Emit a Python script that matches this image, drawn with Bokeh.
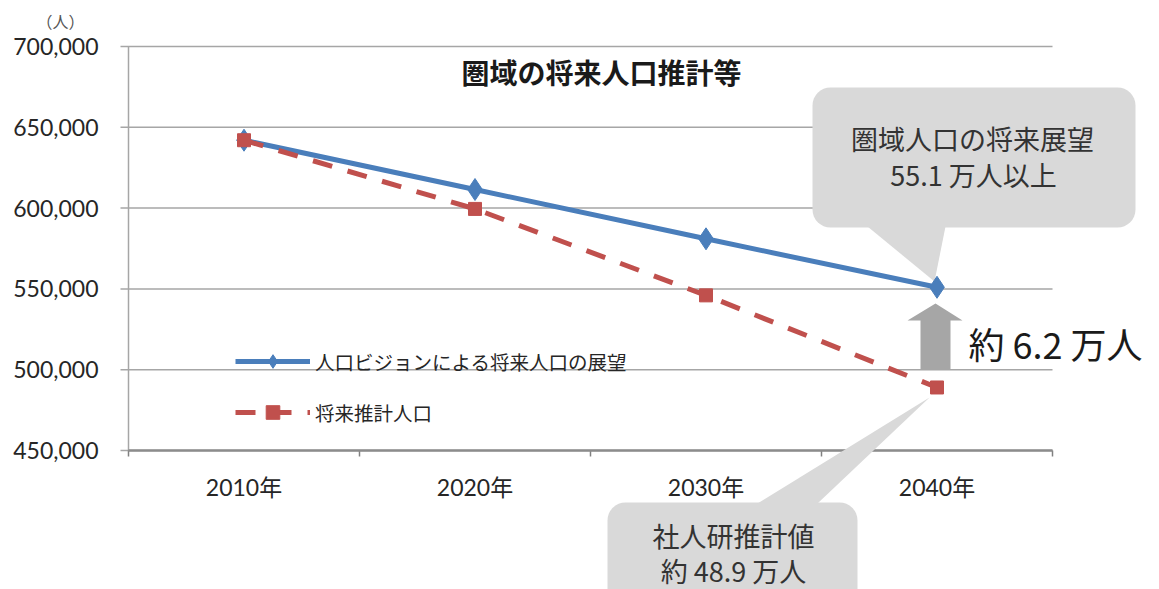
from bokeh.plotting import figure
from bokeh.models import Range1d, Legend, LegendItem, ColumnDataSource
from bokeh.core.properties import value
from bokeh.embed import file_html
from bokeh.resources import INLINE

# ---- data ----
years = ["2010年", "2020年", "2030年", "2040年"]
vision = [642000, 611500, 581000, 551000]      # 人口ビジョンによる将来人口の展望
estimate = [642000, 599500, 546000, 489000]    # 将来推計人口
y_ticks = [450000, 500000, 550000, 600000, 650000, 700000]
series_names = ["人口ビジョンによる将来人口の展望", "将来推計人口"]
title_text = "圏域の将来人口推計等"
unit_text = "（人）"
callout_top = ["圏域人口の将来展望", "55.1 万人以上"]
callout_bottom = ["社人研推計値", "約 48.9 万人"]
diff_text = "約 6.2 万人"

# ---- layout (pixels of the picture) ----
W, H = 1159, 589
PX_L, PX_R, PX_T, PX_B = 128, 1052, 46, 450
n = len(years)
ymin, ymax = y_ticks[0], y_ticks[-1]


def dx(px):
    return (px - PX_L) / (PX_R - PX_L) * n


def dy(py):
    return ymax - (py - PX_T) / (PX_B - PX_T) * (ymax - ymin)


JP = "Noto Sans CJK JP"
NUM = "Lato, 'Noto Sans CJK JP'"
BLUE = "#4a7ebb"
RED = "#c0504d"
GRID = "#a6a6a6"
CALL = "#d9d9d9"
TXT = "#262626"
CTXT = "#333333"

xs = [i + 0.5 for i in range(n)]
src = ColumnDataSource(dict(x=xs, vision=vision, estimate=estimate))

p = figure(width=W, height=H, output_backend="svg", toolbar_location=None,
           x_range=Range1d(dx(0), dx(W)), y_range=Range1d(dy(H), dy(0)),
           x_axis_type=None, y_axis_type=None, min_border=0)
p.outline_line_color = None
p.xgrid.visible = False
p.ygrid.visible = False

# ---- axes drawn through the scales ----
p.segment(x0=[dx(PX_L - 8)] * len(y_ticks), x1=[n] * len(y_ticks), y0=y_ticks, y1=y_ticks,
          line_color=GRID, line_width=1.5)
p.segment(x0=[0], x1=[0], y0=[ymin], y1=[ymax], line_color=GRID, line_width=1.5)
p.segment(x0=list(range(n + 1)), x1=list(range(n + 1)), y0=[ymin] * (n + 1), y1=[dy(PX_B + 6)] * (n + 1),
          line_color="#808080", line_width=1.5)
p.segment(x0=[0], x1=[n], y0=[ymin], y1=[ymin], line_color="#8c8c8c", line_width=2.5)
p.text(x=[dx(PX_L - 30)] * len(y_ticks), y=y_ticks, text=[f"{v:,}" for v in y_ticks],
       text_align="right", text_baseline="middle", text_font=value(NUM),
       text_font_size="23px", text_color=TXT)
p.text(x=xs, y=[dy(486)] * n, text=years, text_align="center", text_baseline="middle",
       text_font=value(NUM), text_font_size="23px", text_color=TXT)
p.text(x=[dx(60)], y=[dy(20)], text=[unit_text], text_align="center", text_baseline="middle",
       text_font=value(JP), text_font_size="16px", text_color="#555555")

# title
p.text(x=[dx(601)], y=[dy(71)], text=[title_text], text_align="center", text_baseline="middle",
       text_font=value(JP), text_font_size="28px", text_font_style="bold", text_color="#1a1a1a")

# ---- callouts (behind the series) ----
p.quad(left=[dx(812)], right=[dx(1135)], top=[dy(87)], bottom=[dy(227)],
       fill_color=CALL, line_color=None, border_radius=18)
p.patch(x=[dx(867), dx(945), dx(934)], y=[dy(226), dy(226), dy(281)], fill_color=CALL, line_color=None)
p.text(x=[dx(972), dx(973)], y=[dy(138), dy(174)], text=callout_top, text_align="center",
       text_baseline="middle", text_font=value(JP), text_font_size="27px", text_color=CTXT)

p.quad(left=[dx(607)], right=[dx(857)], top=[dy(502)], bottom=[dy(625)],
       fill_color=CALL, line_color=None, border_radius=18)
p.patch(x=[dx(757), dx(817), dx(929)], y=[dy(503), dy(503), dy(397)], fill_color=CALL, line_color=None)
p.text(x=[dx(733), dx(733)], y=[dy(535), dy(570)], text=callout_bottom, text_align="center",
       text_baseline="middle", text_font=value(JP), text_font_size="27px", text_color=CTXT)

# ---- series ----
l1 = p.line("x", "vision", source=src, line_color=BLUE, line_width=5)
m1 = p.scatter("x", "vision", source=src, marker="diamond", size=22, fill_color=BLUE, line_color=BLUE)
l2 = p.line("x", "estimate", source=src, line_color=RED, line_width=5, line_dash="20 16")
m2 = p.scatter("x", "estimate", source=src, marker="square", size=13, fill_color=RED, line_color=RED)

# ---- arrow and difference ----
p.patch(x=[dx(935), dx(962), dx(950), dx(950), dx(920), dx(920), dx(907)],
        y=[dy(303), dy(320), dy(320), dy(369), dy(369), dy(320), dy(320)],
        fill_color="#a6a6a6", line_color=None)
p.text(x=[dx(968)], y=[dy(342)], text=[diff_text], text_align="left", text_baseline="middle",
       text_font=value(JP), text_font_size="36px", text_color="#1a1a1a")

legend = Legend(items=[LegendItem(label=series_names[0], renderers=[l1, m1]),
                       LegendItem(label=series_names[1], renderers=[l2, m2])],
                location=(235, H - 429), orientation="vertical",
                glyph_width=75, glyph_height=34, label_height=34, spacing=17,
                label_standoff=5, padding=0, margin=0,
                border_line_color=None, background_fill_alpha=0,
                label_text_font=JP, label_text_font_size="19.5px", label_text_color=TXT)
p.add_layout(legend, "center")

open("out.html", "w").write(file_html(p, INLINE))
